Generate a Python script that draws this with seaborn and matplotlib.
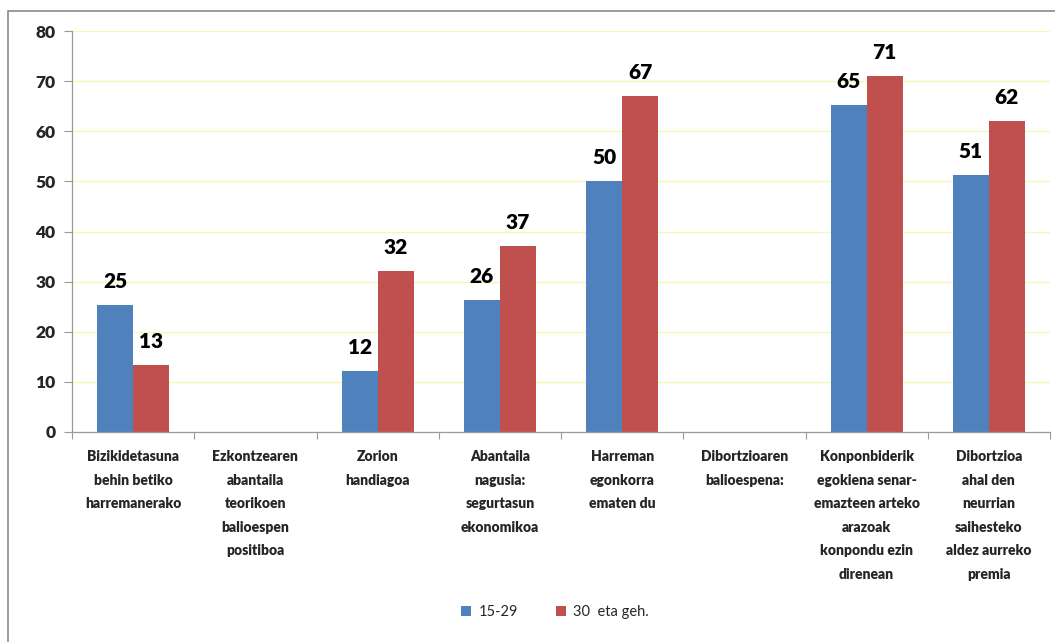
import numpy as np
import pandas as pd
import matplotlib

matplotlib.use("Agg")
import matplotlib.pyplot as plt
from matplotlib.patches import Rectangle
import seaborn as sns

categories = [
    "Bizikidetasuna\nbehin betiko\nharremanerako",
    "Ezkontzearen\nabantaila\nteorikoen\nbalioespen\npositiboa",
    "Zorion\nhandiagoa",
    "Abantaila\nnagusia:\nsegurtasun\nekonomikoa",
    "Harreman\negonkorra\nematen du",
    "Dibortzioaren\nbalioespena:",
    "Konponbiderik\negokiena senar-\nemazteen arteko\narazoak\nkonpondu ezin\ndirenean",
    "Dibortzioa\nahal den\nneurrian\nsaihesteko\naldez aurreko\npremia",
]
young = [25.3, np.nan, 12.2, 26.3, 50.0, np.nan, 65.2, 51.2]
older = [13.4, np.nan, 32.2, 37.1, 67.0, np.nan, 71.0, 62.0]
groups = ["15-29", "30  eta geh."]
colors = ["#4F81BD", "#C0504D"]
yticks = [0, 10, 20, 30, 40, 50, 60, 70, 80]

df = pd.DataFrame({
    "cat": categories * 2,
    "group": [groups[0]] * len(categories) + [groups[1]] * len(categories),
    "value": young + older,
})

sns.set_theme(style="white")
plt.rcParams["font.family"] = ["Lato", "DejaVu Sans"]

fig = plt.figure(figsize=(10.55, 6.42), dpi=100)
ax = fig.add_axes([72 / 1055, 1 - 432 / 642, (1050 - 72) / 1055, (432 - 31) / 642])

sns.barplot(data=df, x="cat", y="value", hue="group", order=categories,
            hue_order=groups, palette=colors, width=0.59, saturation=1,
            linewidth=0, ax=ax, legend=True)

for c in ax.containers:
    ax.bar_label(c, labels=[f"{v:.0f}" for v in c.datavalues], padding=10,
                 fontsize=15, fontweight="heavy", color="black")

ax.set_ylim(0, 80)
ax.set_xlim(-0.5, len(categories) - 0.5)
ax.set_yticks(yticks)
ax.set_yticklabels([str(t) for t in yticks], fontsize=12.5, fontweight="heavy")
ax.yaxis.grid(True, color="#FAF6B0", linewidth=0.9)
ax.set_axisbelow(True)

# category boundaries as major ticks, labels on minor ticks at centres
ax.set_xticks(np.arange(-0.5, len(categories), 1.0))
ax.set_xticklabels([])
ax.set_xticks(np.arange(len(categories)), minor=True)
ax.set_xticklabels(categories, minor=True, fontsize=10, fontweight="heavy",
                   linespacing=1.96, va="top")
ax.tick_params(axis="x", which="major", length=5, width=0.8, color="#9A9A9A",
               direction="out", bottom=True)
ax.tick_params(axis="x", which="minor", length=0, pad=13)
ax.tick_params(axis="y", length=6, width=0.8, color="#9A9A9A", direction="out",
               left=True, pad=6)
ax.set_xlabel("")
ax.set_ylabel("")

for side in ["top", "right"]:
    ax.spines[side].set_visible(False)
for side in ["left", "bottom"]:
    ax.spines[side].set_color("#9A9A9A")
    ax.spines[side].set_linewidth(0.9)

handles, labels = ax.get_legend_handles_labels()
ax.legend_.remove()
fig.legend(handles, labels, loc="center", bbox_to_anchor=(555 / 1055, 1 - 612 / 642),
           ncol=2, frameon=False, fontsize=10.5, handlelength=0.7, handleheight=0.7,
           handletextpad=0.5, columnspacing=2.6)

# outer chart border (only left and top edges fall inside the image)
fig.patches.append(Rectangle((8 / 1055, -0.1), 1.2, 1.1 - 11 / 642,
                             transform=fig.transFigure, fill=False,
                             edgecolor="#8A8A8A", linewidth=1.2))

fig.savefig("out.png", dpi=100)
